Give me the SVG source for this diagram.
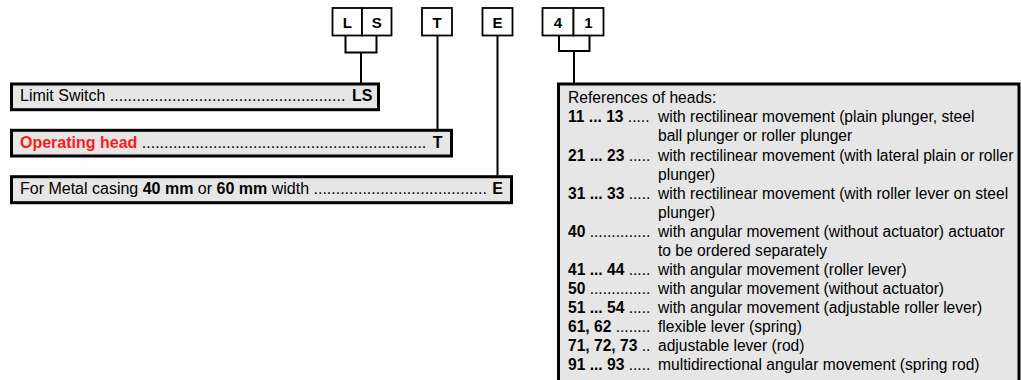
<svg xmlns="http://www.w3.org/2000/svg" width="1021" height="380" viewBox="0 0 1021 380">
<style>
.code{fill:#fff;stroke:#000;stroke-width:1.8}
.box{fill:#e6e6e6;stroke:#000;stroke-width:3}
.ct{font-family:"Liberation Sans",Arial,sans-serif;font-size:15px;font-weight:bold;fill:#000;text-anchor:middle}
.lt{font-family:"Liberation Sans",Arial,sans-serif;font-size:16px;fill:#000}
.rt{font-family:"Liberation Sans",Arial,sans-serif;font-size:15.6px;fill:#000}
.b{font-weight:bold}
.red{fill:#ff1a1a}
.conn{fill:none;stroke:#000;stroke-width:2}
</style>
<rect width="1021" height="380" fill="#fff"/>
<g id="connectors">
<path class="conn" d="M345.5,35.5 V52.5 H376.5 V35.5 M361,52.5 V83"/>
<path class="conn" d="M437.5,35.5 V129"/>
<path class="conn" d="M497.5,35.5 V175.5"/>
<path class="conn" d="M559,35.5 V51 H589.5 V35.5 M574,51 V83"/>
</g>
<g id="code-LS">
<rect class="code" x="332.5" y="8" width="29.5" height="27.5"/>
<rect class="code" x="362" y="8" width="29.5" height="27.5"/>
<text class="ct" x="347.3" y="28">L</text>
<text class="ct" x="376.8" y="28">S</text>
</g>
<g id="code-T">
<rect class="code" x="422" y="8" width="30" height="27.5"/>
<text class="ct" x="437" y="28">T</text>
</g>
<g id="code-E">
<rect class="code" x="482.5" y="8" width="30" height="27.5"/>
<text class="ct" x="497.5" y="28">E</text>
</g>
<g id="code-41">
<rect class="code" x="542.5" y="8" width="31" height="27.5"/>
<rect class="code" x="573.5" y="8" width="30" height="27.5"/>
<text class="ct" x="558" y="28">4</text>
<text class="ct" x="588.5" y="28">1</text>
</g>
<g id="node-limit-switch">
<rect class="box" x="11.5" y="84" width="367" height="25.7"/>
<text class="lt" x="20" y="100.7">Limit Switch .....................................................</text>
<text class="lt b" x="372.5" y="100.7" text-anchor="end">LS</text>
</g>
<g id="node-operating-head">
<rect class="box" x="11.5" y="130.3" width="440" height="25.7"/>
<text class="lt" x="20" y="147.5"><tspan class="b red">Operating head</tspan> ................................................................</text>
<text class="lt b" x="442.5" y="147.5" text-anchor="end">T</text>
</g>
<g id="node-casing">
<rect class="box" x="11.5" y="176.7" width="500" height="26"/>
<text class="lt" x="20" y="194.3">For Metal casing <tspan class="b">40 mm</tspan> or <tspan class="b">60 mm</tspan> width .......................................</text>
<text class="lt b" x="503" y="194.3" text-anchor="end">E</text>
</g>
<g id="node-references">
<rect class="box" x="558.5" y="84" width="460.5" height="310"/>
<text class="rt" x="568" y="103.3">References of heads:</text>
<text class="rt" x="568" y="122.4"><tspan class="b">11 ... 13</tspan> .....</text>
<text class="rt" x="658" y="122.4">with rectilinear movement (plain plunger, steel</text>
<text class="rt" x="658" y="141.4">ball plunger or roller plunger</text>
<text class="rt" x="568" y="160.5"><tspan class="b">21 ... 23</tspan> .....</text>
<text class="rt" x="658" y="160.5">with rectilinear movement (with lateral plain or roller</text>
<text class="rt" x="658" y="179.5">plunger)</text>
<text class="rt" x="568" y="198.5"><tspan class="b">31 ... 33</tspan> .....</text>
<text class="rt" x="658" y="198.5">with rectilinear movement (with roller lever on steel</text>
<text class="rt" x="658" y="217.6">plunger)</text>
<text class="rt" x="568" y="236.7"><tspan class="b">40</tspan> ..............</text>
<text class="rt" x="658" y="236.7">with angular movement (without actuator) actuator</text>
<text class="rt" x="658" y="255.7">to be ordered separately</text>
<text class="rt" x="568" y="274.8"><tspan class="b">41 ... 44</tspan> .....</text>
<text class="rt" x="658" y="274.8">with angular movement (roller lever)</text>
<text class="rt" x="568" y="293.8"><tspan class="b">50</tspan> ..............</text>
<text class="rt" x="658" y="293.8">with angular movement (without actuator)</text>
<text class="rt" x="568" y="312.9"><tspan class="b">51 ... 54</tspan> .....</text>
<text class="rt" x="658" y="312.9">with angular movement (adjustable roller lever)</text>
<text class="rt" x="568" y="331.9"><tspan class="b">61, 62</tspan> ........</text>
<text class="rt" x="658" y="331.9">flexible lever (spring)</text>
<text class="rt" x="568" y="351"><tspan class="b">71, 72, 73</tspan> ..</text>
<text class="rt" x="658" y="351">adjustable lever (rod)</text>
<text class="rt" x="568" y="370"><tspan class="b">91 ... 93</tspan> .....</text>
<text class="rt" x="658" y="370">multidirectional angular movement (spring rod)</text>
</g>
</svg>
